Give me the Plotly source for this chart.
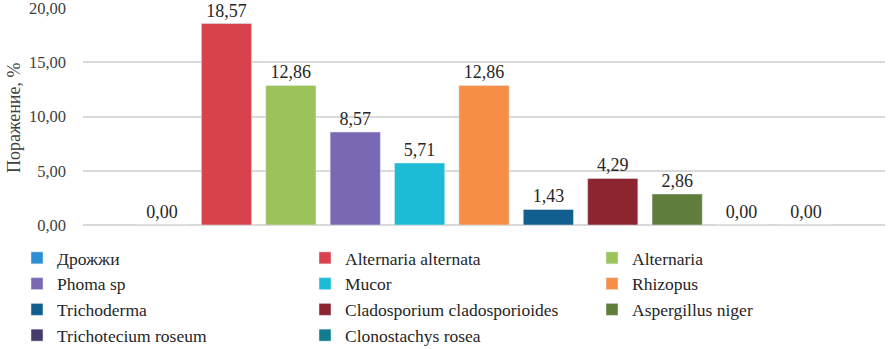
import plotly.graph_objects as go

categories = ["Дрожжи", "Alternaria alternata", "Alternaria", "Phoma sp", "Mucor",
              "Rhizopus", "Trichoderma", "Cladosporium cladosporioides",
              "Aspergillus niger", "Trichotecium roseum", "Clonostachys rosea"]
values = [0.00, 18.57, 12.86, 8.57, 5.71, 12.86, 1.43, 4.29, 2.86, 0.00, 0.00]
colors = ["#2C8FD6", "#D8424C", "#9CC25A", "#7A68B4", "#1DBCD6", "#F68E48",
          "#125E8E", "#8C2530", "#617D3B", "#463B6A", "#127C8C"]
y_ticks = [0, 5, 10, 15, 20]
y_title = "Поражение, %"

font_family = "Liberation Serif"
legend_ids = ["legend", "legend2", "legend3"]

fig = go.Figure()
for i, (name, v, c) in enumerate(zip(categories, values, colors)):
    fig.add_trace(go.Bar(
        x=[""], y=[v], name=name, marker_color=c,
        text=[v], texttemplate="%{y:.2f}", textposition="outside",
        textfont=dict(family=font_family, size=18, color="#262626"),
        cliponaxis=False, legend=legend_ids[i % 3],
    ))

legend_common = dict(
    orientation="v", xref="container", xanchor="left",
    y=1 - 240 / 349, yref="container", yanchor="top",
    font=dict(family=font_family, size=17.5, color="#262626"),
    traceorder="normal", itemwidth=30, tracegroupgap=0,
    bgcolor="rgba(0,0,0,0)",
)

fig.update_layout(
    width=893, height=349,
    barmode="group", bargap=0.117, bargroupgap=0.22,
    separators=", ",
    plot_bgcolor="white", paper_bgcolor="white",
    margin=dict(l=83, r=8, t=8, b=124, autoexpand=False),
    font=dict(family=font_family, size=16, color="#404040"),
    showlegend=True,
    legend=dict(x=17 / 893, **legend_common),
    legend2=dict(x=305 / 893, **legend_common),
    legend3=dict(x=592 / 893, **legend_common),
    yaxis=dict(
        range=[0, 20], tickvals=y_ticks, tickformat=".2f",
        showgrid=True, gridcolor="#D9D9D9", gridwidth=1.5,
        zeroline=True, zerolinecolor="#D9D9D9", zerolinewidth=1.5,
        showline=False, ticks="", ticklabelstandoff=16,
        ticklabeloverflow="allow",
        tickfont=dict(family=font_family, size=16.5, color="#404040"),
    ),
    xaxis=dict(showticklabels=False, showgrid=False, ticks="", showline=False),
    annotations=[dict(
        text=y_title, textangle=-90, showarrow=False,
        xref="paper", yref="paper", x=(14 - 83) / 802, y=(225 - 118) / 217,
        xanchor="center", yanchor="middle",
        font=dict(family=font_family, size=18, color="#404040"),
    )],
)

fig.write_html("out.html", config={"displayModeBar": False},
               post_script="document.body.style.margin='0';")
